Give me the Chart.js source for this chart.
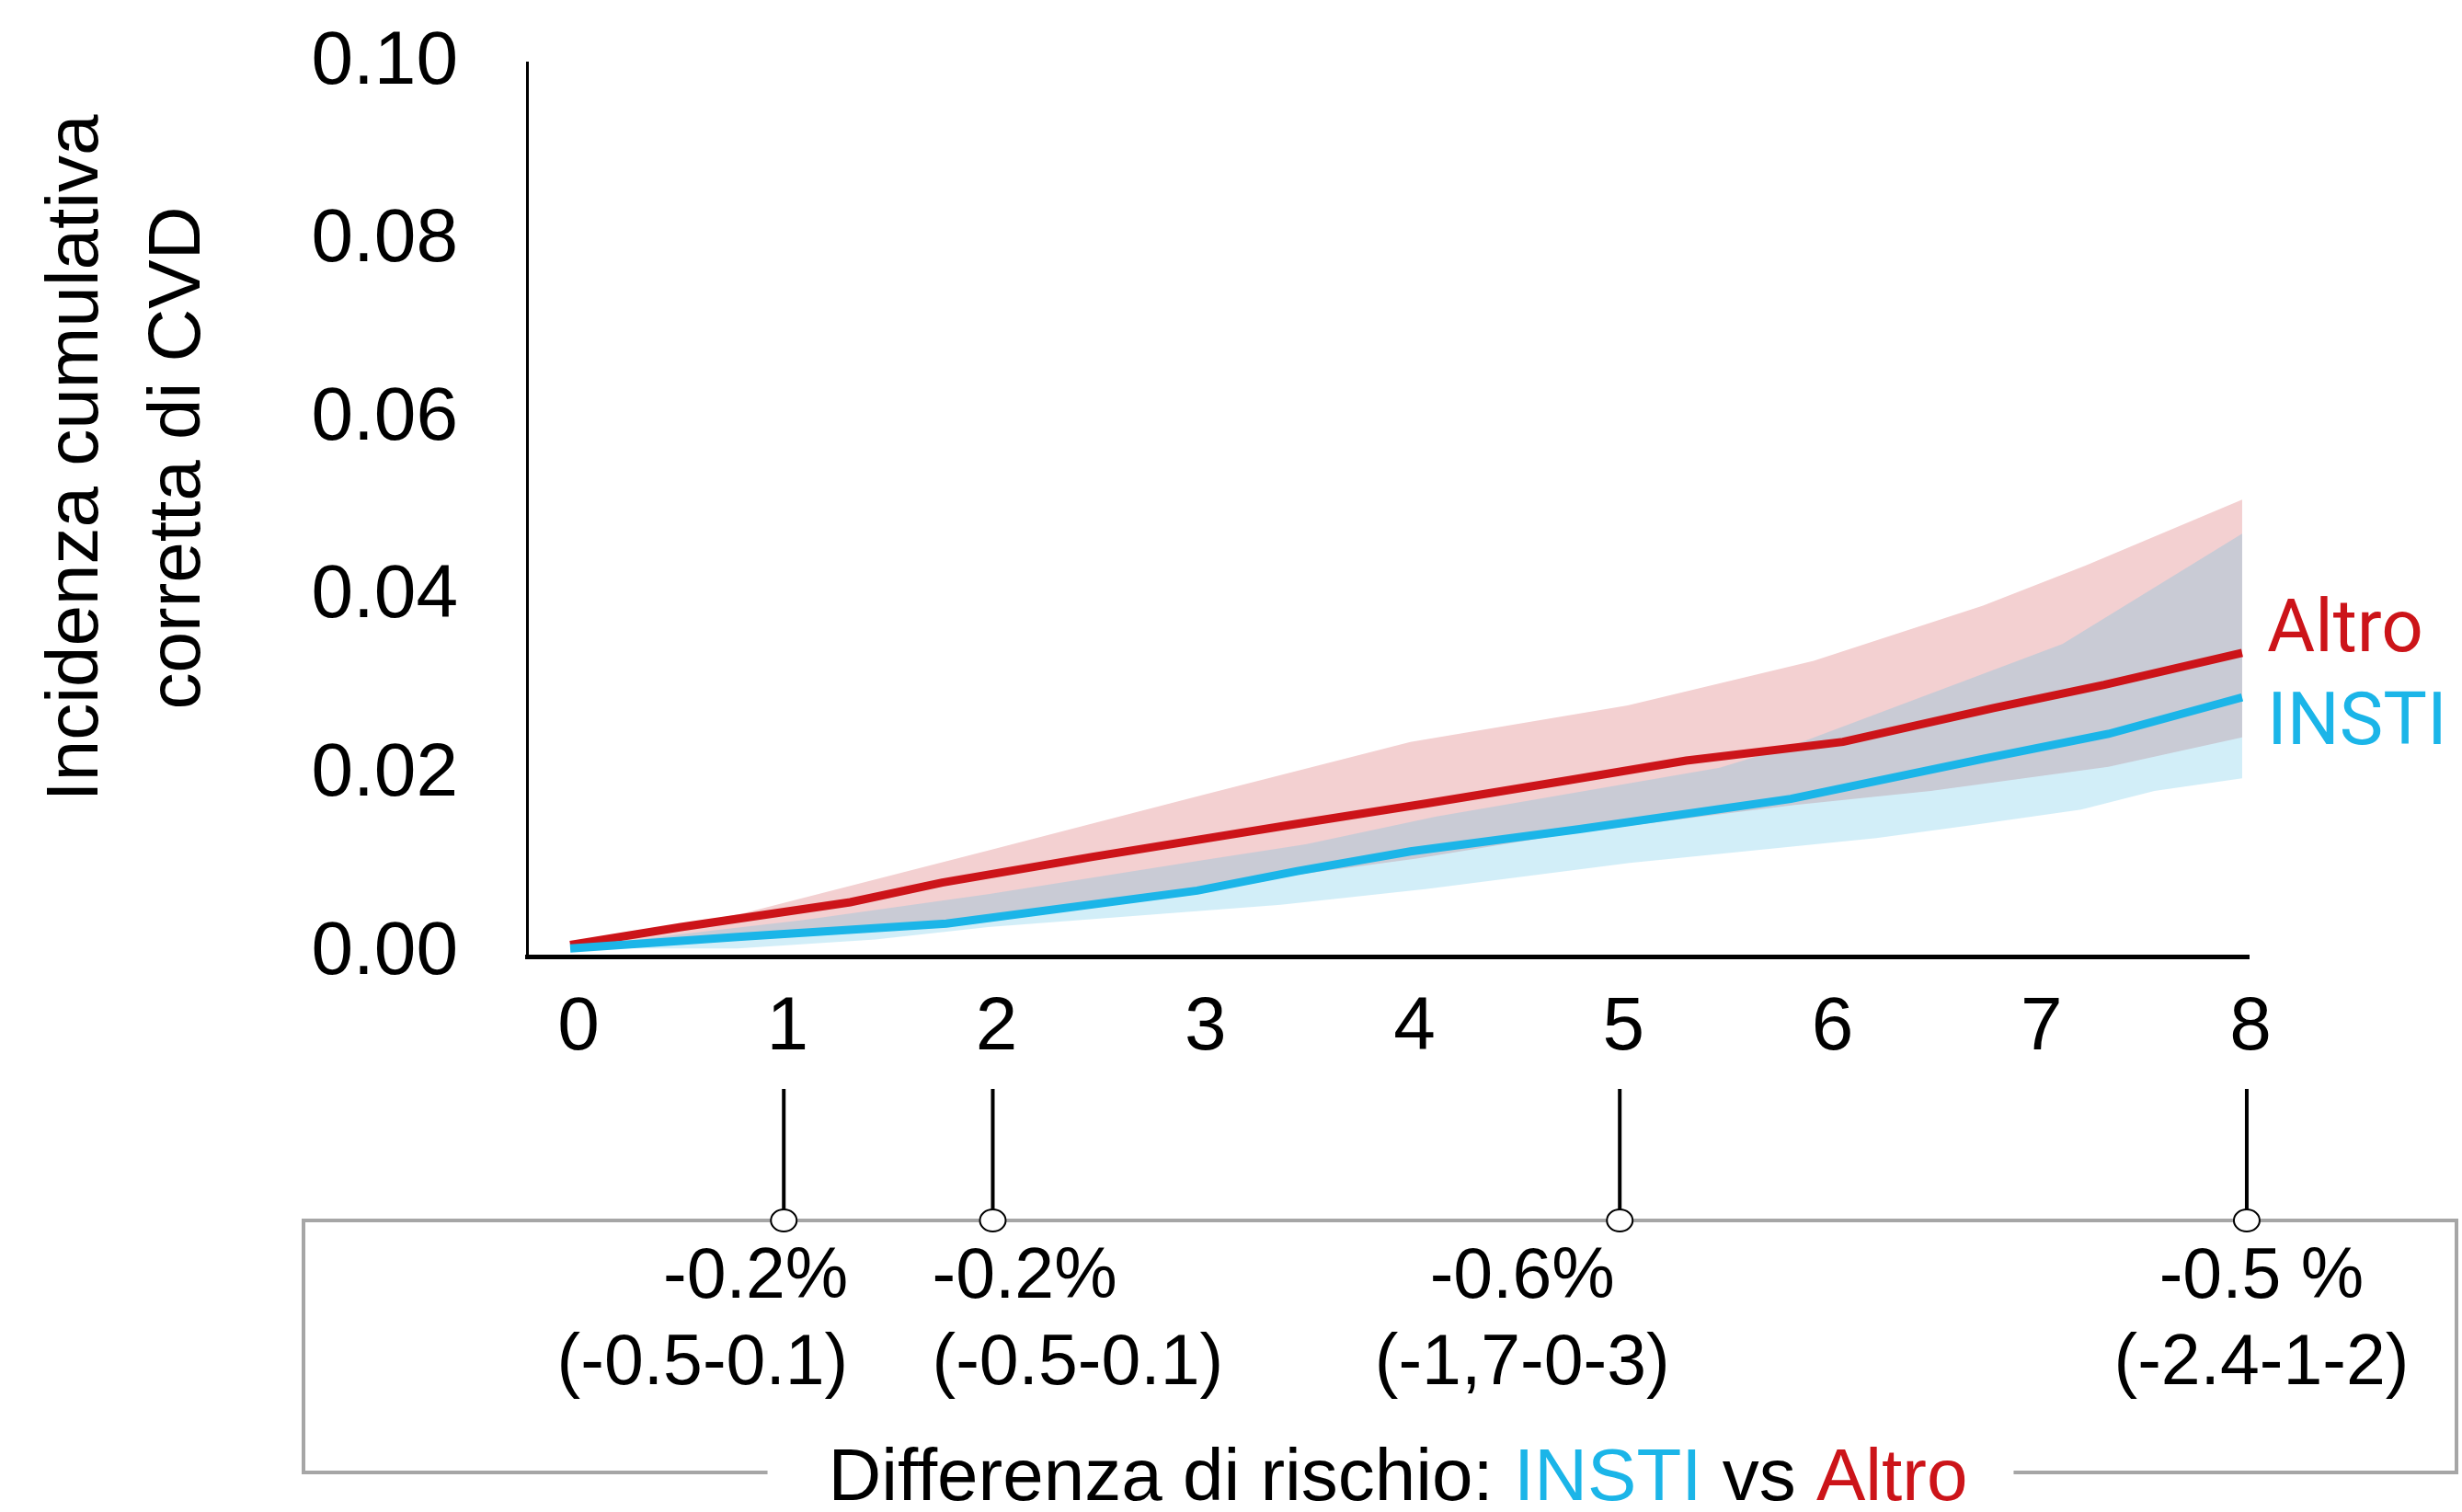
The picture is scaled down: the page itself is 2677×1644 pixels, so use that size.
<!DOCTYPE html>
<html>
<head>
<meta charset="utf-8">
<title>Incidenza cumulativa di CVD: INSTI vs Altro</title>
<script src="https://cdn.jsdelivr.net/npm/chart.js@4.4.1/dist/chart.umd.min.js"></script>
<style>
  html, body { margin: 0; padding: 0; background: #fff; }
  #wrap { position: relative; width: 2677px; height: 1644px; }
</style>
</head>
<body>
<div id="wrap"><canvas id="cvdChart"></canvas></div>
<script>
// --- incidenza cumulativa corretta di CVD, per anno di follow-up ---
const altroYears = [0, 0.53, 1.34, 1.78, 2.5, 3.45, 4.1, 4.78, 5.34, 6.09, 6.81, 7.34, 8];
const altroRisk  = [0.0009, 0.0029, 0.0057, 0.0079, 0.0108, 0.0144, 0.0168, 0.0194, 0.0216, 0.0237, 0.0275, 0.0301, 0.0337];

const altroHiYears = [0, 0.82, 2.0, 3.02, 4.02, 5.06, 5.95, 6.76, 7.25, 8];
const altroHi      = [0.0009, 0.0044, 0.0115, 0.0177, 0.0237, 0.0278, 0.0328, 0.0390, 0.0435, 0.0509];

const altroLoYears = [0, 0.8, 1.8, 3.0, 3.48, 4.05, 4.83, 5.85, 6.51, 7.36, 8];
const altroLo      = [0.0008, 0.0017, 0.0033, 0.0068, 0.0088, 0.0106, 0.0136, 0.0166, 0.0182, 0.0209, 0.0242];

const instiYears = [0, 0.8, 1.8, 3.0, 3.48, 4.02, 4.83, 5.84, 6.76, 7.36, 8];
const instiRisk  = [0.0005, 0.0018, 0.0033, 0.0070, 0.0092, 0.0114, 0.0139, 0.0173, 0.0218, 0.0246, 0.0287];

const instiHiYears = [0, 0.53, 1.12, 2.0, 3.02, 3.52, 4.14, 5.5, 5.85, 7.14, 8];
const instiHi      = [0.0005, 0.0021, 0.0037, 0.0066, 0.0104, 0.0122, 0.0153, 0.0208, 0.0233, 0.0347, 0.0471];

const instiLoYears = [0, 0.8, 1.46, 2.0, 3.4, 4.1, 5.07, 6.25, 6.72, 7.23, 7.58, 8];
const instiLo      = [0.0005, 0.0005, 0.0015, 0.0029, 0.0054, 0.0072, 0.0101, 0.0129, 0.0144, 0.0161, 0.0182, 0.0196];

const xTicks = [0, 1, 2, 3, 4, 5, 6, 7, 8];
const yTicks = [0, 0.02, 0.04, 0.06, 0.08, 0.10];
const yTitle = ['Incidenza cumulativa', 'corretta di CVD'];

// differenza di rischio INSTI vs Altro a 1, 2, 5 e 8 anni
const diffYears = [1, 2, 5, 8];
const diffLabels = ['-0.2%', '-0.2%', '-0.6%', '-0.5 %'];
const diffCI = ['(-0.5-0.1)', '(-0.5-0.1)', '(-1,7-0-3)', '(-2.4-1-2)'];
// -------------------------------------------------

const RED = '#CC1419';
const BLUE = '#1BB5E8';
const SANS = '"Liberation Sans", Arial, Helvetica, sans-serif';

function toPoints(xs, ys) {
  return xs.map((x, i) => ({ x: x, y: ys[i] }));
}

// y axis title, two rotated lines
const axisTitle = {
  id: 'axisTitle',
  afterDraw(chart) {
    const ctx = chart.ctx;
    ctx.save();
    ctx.font = `80px ${SANS}`;
    ctx.fillStyle = '#000';
    ctx.textAlign = 'center';
    ctx.textBaseline = 'alphabetic';
    [106, 217].forEach((bx, i) => {
      ctx.save();
      ctx.translate(bx, 498);
      ctx.rotate(-Math.PI / 2);
      ctx.fillText(yTitle[i], 0, 0);
      ctx.restore();
    });
    ctx.restore();
  }
};

// series names at the end of each line
const endLabels = {
  id: 'endLabels',
  afterDatasetsDraw(chart) {
    const ctx = chart.ctx;
    const y = chart.scales.y;
    const left = chart.chartArea.right + 20;
    ctx.save();
    ctx.font = '80px Roboto, "Liberation Sans", sans-serif';
    ctx.textAlign = 'left';
    ctx.textBaseline = 'alphabetic';
    ctx.fillStyle = RED;
    ctx.fillText('Altro', left, y.getPixelForValue(altroRisk[altroRisk.length - 1]) - 2);
    ctx.fillStyle = BLUE;
    ctx.fillText('INSTI', left, y.getPixelForValue(instiRisk[instiRisk.length - 1]) + 51);
    ctx.restore();
  }
};

// risk difference panel below the x axis
const riskPanel = {
  id: 'riskPanel',
  afterDraw(chart) {
    const ctx = chart.ctx;
    const xs = chart.scales.x;
    const box = { left: 330, right: 2671, top: 1327, bottom: 1601 };
    const align = ['right', 'left', 'center', 'center'];
    const shift = [70, -66, -106, 16];

    ctx.save();

    // title with coloured group names
    ctx.font = `80px ${SANS}`;
    const parts = [['Differenza di rischio: ', '#000'], ['INSTI', BLUE], [' vs ', '#000'], ['Altro', RED]];
    const total = parts.reduce((s, p) => s + ctx.measureText(p[0]).width, 0);
    let tx = 1520 - total / 2;
    const gapL = tx - 66, gapR = tx + total + 50;
    ctx.textAlign = 'left';
    ctx.textBaseline = 'alphabetic';
    parts.forEach(p => {
      ctx.fillStyle = p[1];
      ctx.fillText(p[0], tx, 1631);
      tx += ctx.measureText(p[0]).width;
    });

    // frame, open where the title sits
    ctx.strokeStyle = '#A6A6A6';
    ctx.lineWidth = 4;
    ctx.beginPath();
    ctx.moveTo(gapL, box.bottom);
    ctx.lineTo(box.left, box.bottom);
    ctx.lineTo(box.left, box.top);
    ctx.lineTo(box.right, box.top);
    ctx.lineTo(box.right, box.bottom);
    ctx.lineTo(gapR, box.bottom);
    ctx.stroke();

    diffYears.forEach((yr, i) => {
      const px = xs.getPixelForValue(yr) + 5;

      ctx.strokeStyle = '#000';
      ctx.lineWidth = 4;
      ctx.beginPath();
      ctx.moveTo(px, 1184);
      ctx.lineTo(px, box.top - 12);
      ctx.stroke();

      ctx.beginPath();
      ctx.ellipse(px, box.top, 14, 12, 0, 0, Math.PI * 2);
      ctx.fillStyle = '#fff';
      ctx.fill();
      ctx.lineWidth = 2;
      ctx.stroke();

      ctx.font = `77px ${SANS}`;
      ctx.fillStyle = '#000';
      ctx.textAlign = align[i];
      ctx.fillText(diffLabels[i], px + shift[i], 1411);
      ctx.fillText(diffCI[i], px + shift[i], 1505);
    });

    ctx.restore();
  }
};

const ctx = document.getElementById('cvdChart').getContext('2d');
new Chart(ctx, {
  type: 'line',
  data: {
    datasets: [
      { label: 'INSTI', data: toPoints(instiYears, instiRisk), borderColor: BLUE, borderWidth: 9, fill: false },
      { label: 'INSTI IC sup', data: toPoints(instiHiYears, instiHi), borderWidth: 0, borderColor: 'rgba(0,0,0,0)',
        fill: '+1', backgroundColor: 'rgba(78,188,227,0.255)' },
      { label: 'INSTI IC inf', data: toPoints(instiLoYears, instiLo), borderWidth: 0, borderColor: 'rgba(0,0,0,0)', fill: false },
      { label: 'Altro', data: toPoints(altroYears, altroRisk), borderColor: RED, borderWidth: 9, fill: false },
      { label: 'Altro IC sup', data: toPoints(altroHiYears, altroHi), borderWidth: 0, borderColor: 'rgba(0,0,0,0)',
        fill: '+1', backgroundColor: 'rgb(243,208,209)' },
      { label: 'Altro IC inf', data: toPoints(altroLoYears, altroLo), borderWidth: 0, borderColor: 'rgba(0,0,0,0)', fill: false }
    ]
  },
  options: {
    responsive: true,
    maintainAspectRatio: false,
    animation: false,
    devicePixelRatio: 1,
    layout: { padding: { top: 68, right: 232, bottom: 474, left: 0 } },
    elements: {
      point: { radius: 0, hoverRadius: 0 },
      line: { tension: 0, borderCapStyle: 'butt', borderJoinStyle: 'miter' }
    },
    plugins: {
      legend: { display: false },
      tooltip: { enabled: false },
      filler: { drawTime: 'beforeDatasetsDraw' }
    },
    scales: {
      x: {
        type: 'linear',
        min: -0.2068,
        max: 8.031,
        grid: { display: false, drawTicks: false },
        border: { display: true, color: '#000', width: 5 },
        afterBuildTicks: s => { s.ticks = xTicks.map(v => ({ value: v })); },
        afterFit: s => { s.height = 130; s.paddingLeft = 0; s.paddingRight = 0; },
        ticks: {
          color: '#000',
          padding: 29,
          labelOffset: 9,
          maxRotation: 0,
          font: { family: SANS, size: 82 },
          callback: v => String(v)
        }
      },
      y: {
        min: -0.0004,
        max: 0.10,
        grid: { display: false, drawTicks: false },
        border: { display: true, color: '#000', width: 3 },
        afterBuildTicks: s => { s.ticks = yTicks.map(v => ({ value: v })); },
        afterFit: s => { s.width = 573; s.paddingTop = 0; s.paddingBottom = 0; },
        ticks: {
          color: '#000',
          padding: 75,
          font: { family: SANS, size: 82 },
          callback: v => v.toFixed(2)
        }
      }
    }
  },
  plugins: [axisTitle, endLabels, riskPanel]
});
</script>
</body>
</html>
